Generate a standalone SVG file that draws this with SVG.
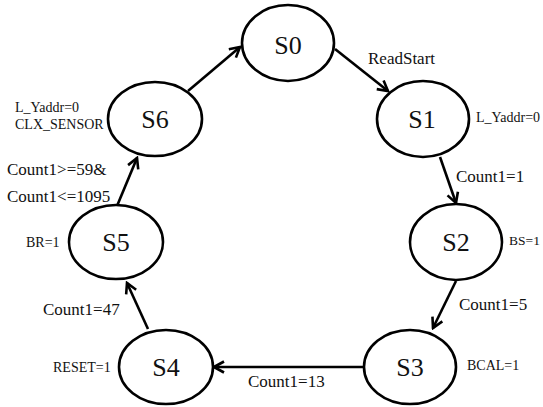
<svg xmlns="http://www.w3.org/2000/svg" width="543" height="407" viewBox="0 0 543 407">
<style>
.node ellipse{fill:#fff;stroke:#000;stroke-width:2.6}
text{font-family:'Liberation Serif','Times New Roman','DejaVu Serif',serif;fill:#111}
.st{font-size:26px;text-anchor:middle}
.lb{font-size:17px}
.sm{font-size:14px}
.edges line{stroke:#000;stroke-width:2.6;marker-end:url(#arr)}
</style>
<defs>
<marker id="arr" viewBox="0 0 14 14" refX="12" refY="7" markerWidth="14" markerHeight="14" markerUnits="userSpaceOnUse" orient="auto">
<path d="M2,1.5 L12,7 L2,12.5" fill="none" stroke="#000" stroke-width="2.6"/>
</marker>
</defs>
<rect width="543" height="407" fill="#fff"/>
<g class="edges" id="connectors">
<line x1="335" y1="49" x2="388" y2="91"/>
<line x1="440" y1="157" x2="456" y2="203"/>
<line x1="456" y1="281" x2="433" y2="328"/>
<line x1="364" y1="367" x2="214" y2="367"/>
<line x1="148" y1="329" x2="127" y2="283"/>
<line x1="117" y1="206" x2="137" y2="158"/>
<line x1="188" y1="91" x2="240" y2="47"/>
</g>
<g class="node" id="S0"><ellipse cx="288" cy="43" rx="46" ry="38"/><text class="st" x="288" y="54">S0</text></g>
<g class="node" id="S1"><ellipse cx="423" cy="119" rx="46" ry="38"/><text class="st" x="422" y="128">S1</text></g>
<g class="node" id="S2"><ellipse cx="456" cy="242" rx="46" ry="38"/><text class="st" x="456" y="251">S2</text></g>
<g class="node" id="S3"><ellipse cx="410" cy="367" rx="46" ry="37"/><text class="st" x="410" y="376">S3</text></g>
<g class="node" id="S4"><ellipse cx="166" cy="367" rx="47" ry="37"/><text class="st" x="166" y="376">S4</text></g>
<g class="node" id="S5"><ellipse cx="116" cy="242" rx="47" ry="37"/><text class="st" x="116" y="251">S5</text></g>
<g class="node" id="S6"><ellipse cx="155" cy="119" rx="47" ry="37"/><text class="st" x="155" y="128">S6</text></g>
<g id="labels">
<text class="lb" x="368" y="64">ReadStart</text>
<text class="lb" x="456" y="182">Count1=1</text>
<text class="lb" x="459" y="310">Count1=5</text>
<text class="lb" x="248" y="387">Count1=13</text>
<text class="lb" x="43" y="315">Count1=47</text>
<text class="lb" x="7" y="175">Count1&gt;=59&amp;</text>
<text class="lb" x="7" y="202">Count1&lt;=1095</text>
<text class="sm" x="15" y="112">L_Yaddr=0</text>
<text class="sm" x="15" y="129">CLX_SENSOR</text>
<text class="sm" x="476" y="122">L_Yaddr=0</text>
<text class="sm" x="509" y="245" style="font-size:13.5px">BS=1</text>
<text class="sm" x="467" y="370">BCAL=1</text>
<text class="sm" x="53" y="372">RESET=1</text>
<text class="sm" x="26" y="247">BR=1</text>
</g>
</svg>
